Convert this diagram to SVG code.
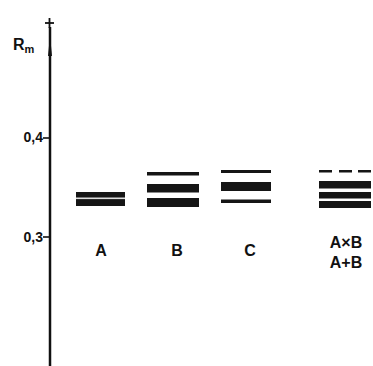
<svg xmlns="http://www.w3.org/2000/svg" width="373" height="366" viewBox="0 0 373 366">
<style>
.t{font-family:"Liberation Sans",Arial,sans-serif;font-weight:bold;fill:#111}
.lab{font-size:16px;text-anchor:middle}
.tick{font-size:14px;text-anchor:end}
.band{fill:#151515}
.ax{stroke:#111;fill:none}
</style>
<rect width="373" height="366" fill="#fff"/>
<g id="axis">
<line class="ax" x1="50" y1="27" x2="50" y2="366" stroke-width="2.5"/>
<polygon points="50,36 48,56 52,56" fill="#111"/>
<line class="ax" x1="45" y1="23" x2="54" y2="23" stroke-width="1.8"/>
<line class="ax" x1="49.5" y1="18" x2="49.5" y2="28" stroke-width="1.8"/>
<line class="ax" x1="43" y1="138" x2="50" y2="138" stroke-width="1.6"/>
<line class="ax" x1="43" y1="237" x2="50" y2="237" stroke-width="1.6"/>
<text class="t" x="13" y="50" font-size="16">R<tspan font-size="11" dy="3">m</tspan></text>
<text class="t tick" x="43" y="142">0,4</text>
<text class="t tick" x="43" y="242">0,3</text>
</g>
<g id="lane-A">
<rect class="band" x="76" y="192" width="49" height="14"/>
<rect x="76" y="197.5" width="49" height="1.6" fill="#ddd"/>
<text class="t lab" x="101" y="256">A</text>
</g>
<g id="lane-B">
<rect class="band" x="147" y="172" width="52" height="3.5"/>
<rect class="band" x="147" y="184" width="52" height="8.5"/>
<rect class="band" x="147" y="198" width="52" height="9"/>
<text class="t lab" x="177" y="256">B</text>
</g>
<g id="lane-C">
<rect class="band" x="221" y="170" width="50" height="3"/>
<rect class="band" x="221" y="182" width="50" height="9"/>
<rect class="band" x="221" y="199.5" width="50" height="3.5"/>
<text class="t lab" x="250" y="256">C</text>
</g>
<g id="lane-AxB">
<rect class="band" x="319" y="170" width="13" height="2.5"/>
<rect class="band" x="339" y="170" width="13" height="2.5"/>
<rect class="band" x="358" y="170" width="13" height="2.5"/>
<rect class="band" x="319" y="181" width="52" height="7.5"/>
<rect class="band" x="319" y="192" width="52" height="6.5"/>
<rect class="band" x="319" y="201" width="52" height="7"/>
<text class="t lab" x="346" y="248">A×B</text>
<text class="t lab" x="346" y="268">A+B</text>
</g>
</svg>
